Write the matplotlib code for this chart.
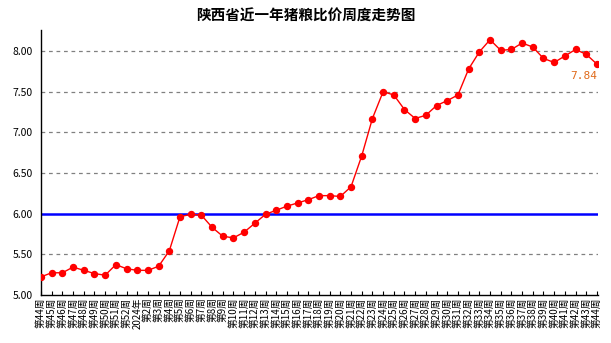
import matplotlib.pyplot as plt

plt.rcParams['font.family'] = ['Noto Sans CJK SC', 'DejaVu Sans']

# week labels
weeks = ['第%d周' % w for w in range(44, 53)] + ['2024年'] + ['第%d周' % w for w in range(2, 45)]
ratio = [5.22, 5.27, 5.27, 5.34, 5.30, 5.26, 5.24, 5.37, 5.32, 5.30,
         5.30, 5.35, 5.54, 5.96, 5.99, 5.98, 5.83, 5.72, 5.70, 5.77,
         5.88, 5.99, 6.04, 6.09, 6.13, 6.17, 6.22, 6.22, 6.21, 6.33,
         6.71, 7.17, 7.50, 7.46, 7.28, 7.17, 7.21, 7.33, 7.39, 7.46,
         7.78, 7.99, 8.14, 8.01, 8.02, 8.10, 8.05, 7.91, 7.86, 7.94,
         8.02, 7.96, 7.84]
balance = 6.00
yticks = [5.00, 5.50, 6.00, 6.50, 7.00, 7.50, 8.00]

fig = plt.figure(figsize=(6.11, 3.43), dpi=100)
ax = fig.add_axes([41/611, 1 - 294.7/343, 557/611, 264.7/343])

x = list(range(len(ratio)))
ax.plot(x, ratio, color='red', lw=1, marker='o', ms=4.3, zorder=3)
ax.axhline(balance, color='#0000ff', lw=1.8, zorder=2)

ax.set_ylim(5.0, 8.26)
ax.set_xlim(0, len(ratio) - 1 + 0.1)
ax.set_yticks(yticks)
ax.set_yticklabels(['%.2f' % v for v in yticks], fontsize=7.5)
ax.tick_params(axis='y', length=0, pad=6)
for v in yticks[1:]:
    if v != balance:
        ax.axhline(v, color='gray', lw=0.9, ls=(0, (3, 3)), zorder=1)

ax.set_xticks(x)
ax.set_xticklabels(weeks, rotation=90, fontsize=7, linespacing=0.9)
ax.tick_params(axis='x', direction='in', length=3, width=0.8, pad=2)

ax.spines['top'].set_visible(False)
ax.spines['right'].set_visible(False)
ax.spines['left'].set_linewidth(1)
ax.spines['bottom'].set_linewidth(1)

ax.annotate('%.2f' % ratio[-1], (x[-1], ratio[-1]), xytext=(0, -5),
            textcoords='offset points', ha='right', va='top',
            color='#e06a1a', fontsize=8, family='DejaVu Sans Mono')

fig.text(0.5, 1 - 16/343, '陕西省近一年猪粮比价周度走势图', ha='center', va='center',
         fontsize=10.5, fontweight='bold')

fig.savefig('out.png', dpi=100)
